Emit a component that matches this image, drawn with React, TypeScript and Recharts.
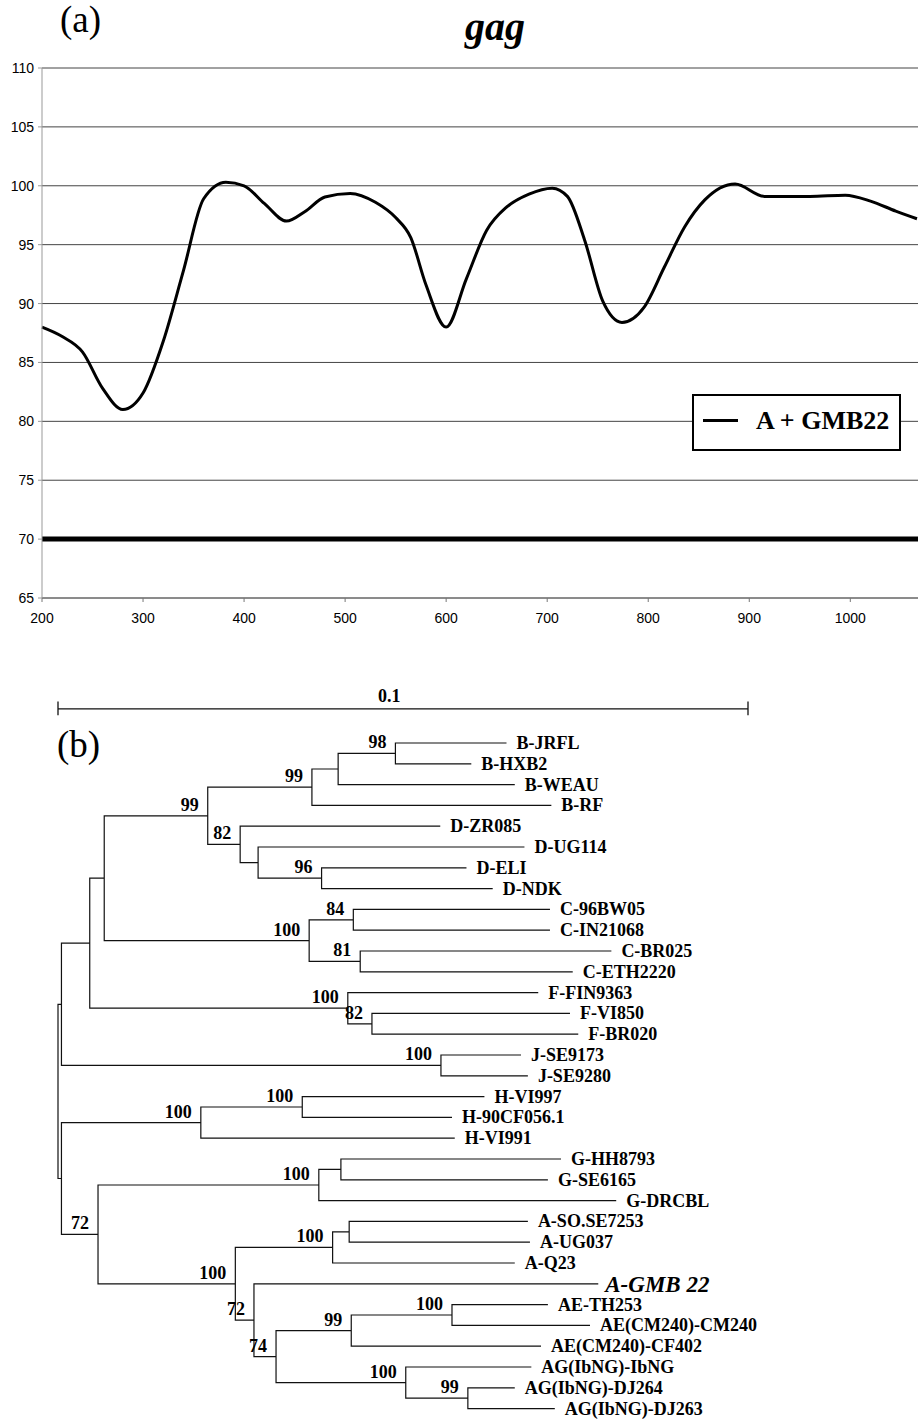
import React from "react";
import {
  LineChart,
  Line,
  XAxis,
  YAxis,
  CartesianGrid,
  ReferenceLine,
  Legend,
  ComposedChart,
  Scatter,
} from "recharts";

// (a) similarity plot, gag
const positions = [
  200, 220, 240, 260, 280, 300, 320, 340, 360, 382, 400, 420, 442, 460, 480, 505, 530, 550, 565, 580, 600,
  620, 640, 660, 682, 705, 720, 737, 755, 774, 796, 816, 836, 856, 886, 915, 960, 995, 1020, 1045, 1066,
];
const identity = [
  88.0, 87.2, 85.9, 82.8, 81.0, 82.4, 86.8, 92.8, 98.9, 100.3, 100.0, 98.5, 97.0, 97.8, 99.05, 99.35, 98.6,
  97.3, 95.6, 91.6, 88.0, 92.1, 96.2, 98.2, 99.3, 99.8, 99.1, 95.4, 90.2, 88.4, 89.7, 93.1, 96.5, 98.8,
  100.15, 99.1, 99.1, 99.2, 98.7, 97.85, 97.2,
];
const xTicks = [200, 300, 400, 500, 600, 700, 800, 900, 1000];
const yTicks = [65, 70, 75, 80, 85, 90, 95, 100, 105, 110];
const threshold = 70;
const seriesName = "A + GMB22";

// (b) neighbour-joining tree
const leafNames = [
  "B-JRFL", "B-HXB2", "B-WEAU", "B-RF", "D-ZR085", "D-UG114", "D-ELI", "D-NDK",
  "C-96BW05", "C-IN21068", "C-BR025", "C-ETH2220", "F-FIN9363", "F-VI850", "F-BR020",
  "J-SE9173", "J-SE9280", "H-VI997", "H-90CF056.1", "H-VI991", "G-HH8793", "G-SE6165",
  "G-DRCBL", "A-SO.SE7253", "A-UG037", "A-Q23", "A-GMB 22", "AE-TH253",
  "AE(CM240)-CM240", "AE(CM240)-CF402", "AG(IbNG)-IbNG", "AG(IbNG)-DJ264", "AG(IbNG)-DJ263",
];
const leafDepth = [
  0.0650, 0.0599, 0.0662, 0.0715, 0.0554, 0.0676, 0.0592, 0.0630, 0.0713, 0.0713, 0.0802,
  0.0746, 0.0696, 0.0742, 0.0754, 0.0671, 0.0681, 0.0618, 0.0571, 0.0575, 0.0729, 0.0710,
  0.0809, 0.0681, 0.0684, 0.0662, 0.0783, 0.0710, 0.0771, 0.0700, 0.0686, 0.0662, 0.0720,
];
const highlightLeaf = "A-GMB 22";

// id, depth, bootstrap, children
const treeNodes: [string, number, string, string, string][] = [
  ["root", 0, "", "n1", "n2"],
  ["n1", 0.0005, "", "n3", "nJ"],
  ["n3", 0.0046, "", "n4", "nF"],
  ["n4", 0.0067, "", "nBD", "nC"],
  ["nBD", 0.0217, "99", "nB", "nD"],
  ["nB", 0.0368, "99", "nB2", "L3"],
  ["nB2", 0.0406, "", "nB3", "L2"],
  ["nB3", 0.0489, "98", "L0", "L1"],
  ["nD", 0.0264, "82", "L4", "nD2"],
  ["nD2", 0.029, "", "L5", "nD3"],
  ["nD3", 0.0382, "96", "L6", "L7"],
  ["nC", 0.0364, "100", "nC1", "nC2"],
  ["nC1", 0.0428, "84", "L8", "L9"],
  ["nC2", 0.0438, "81", "L10", "L11"],
  ["nF", 0.042, "100", "L12", "nF2"],
  ["nF2", 0.0455, "82", "L13", "L14"],
  ["nJ", 0.0555, "100", "L15", "L16"],
  ["n2", 0.0005, "", "nH", "nGA"],
  ["nH", 0.0207, "100", "nH2", "L19"],
  ["nH2", 0.0354, "100", "L17", "L18"],
  ["nGA", 0.0058, "72", "nG", "nA"],
  ["nG", 0.0378, "100", "nG2", "L22"],
  ["nG2", 0.041, "", "L20", "L21"],
  ["nA", 0.0257, "100", "nA2", "nR"],
  ["nA2", 0.0398, "100", "nA3", "L25"],
  ["nA3", 0.0422, "", "L23", "L24"],
  ["nR", 0.0284, "72", "L26", "nR2"],
  ["nR2", 0.0316, "74", "nAE", "nAG"],
  ["nAE", 0.0425, "99", "nAE2", "L29"],
  ["nAE2", 0.0571, "100", "L27", "L28"],
  ["nAG", 0.0504, "100", "L30", "nAG2"],
  ["nAG2", 0.0594, "99", "L31", "L32"],
];
const scaleBarLength = 0.1;
const scaleBarLabel = "0.1";

const lineData = positions.map((p, i) => ({ pos: p, identity: identity[i] }));

type Pt = { x: number; y: number | null };
const branchPath: Pt[] = [];
const supportData: { x: number; y: number; label: string }[] = [];
const nodeById = new Map(treeNodes.map((n) => [n[0], n]));

function layout(id: string): { x: number; y: number } {
  if (id.startsWith("L")) {
    const i = Number(id.slice(1));
    return { x: leafDepth[i], y: i };
  }
  const [, depth, support, a, b] = nodeById.get(id)!;
  const ca = layout(a);
  const cb = layout(b);
  const y = (ca.y + cb.y) / 2;
  // elbow: child a -> node -> child b
  branchPath.push(
    { x: ca.x, y: ca.y },
    { x: depth, y: ca.y },
    { x: depth, y: cb.y },
    { x: cb.x, y: cb.y },
    { x: cb.x, y: null }
  );
  if (support) supportData.push({ x: depth, y, label: support });
  return { x: depth, y };
}
layout("root");

const leafData = leafNames.map((name, i) => ({ x: leafDepth[i], y: i, name }));

// scale bar sits above the first leaf
const barY = -1.64;
const scaleBar: Pt[] = [
  { x: 0, y: barY - 0.36 },
  { x: 0, y: barY + 0.3 },
  { x: 0, y: null },
  { x: 0, y: barY },
  { x: scaleBarLength, y: barY },
  { x: scaleBarLength, y: null },
  { x: scaleBarLength, y: barY - 0.36 },
  { x: scaleBarLength, y: barY + 0.3 },
];
const scaleLabelData = [{ x: scaleBarLength * 0.48, y: -2.28, name: scaleBarLabel }];

const serif = "'Liberation Serif', 'Times New Roman', serif";
const sans = "'Liberation Sans', Arial, sans-serif";

const renderLegend = () => (
  <div
    style={{
      position: "relative",
      width: 209,
      height: 57,
      boxSizing: "border-box",
      border: "2px solid #000",
      background: "#fff",
    }}
  >
    <div style={{ position: "absolute", left: 9, top: 23, width: 35, height: 3, background: "#000" }} />
    <span
      style={{
        position: "absolute",
        left: 62,
        top: 12,
        fontFamily: serif,
        fontWeight: "bold",
        fontSize: 26,
        lineHeight: "26px",
        whiteSpace: "nowrap",
        color: "#000",
      }}
    >
      {seriesName}
    </span>
  </div>
);

const LeafLabel = (props: any) => {
  const { cx, cy, payload } = props;
  const hi = payload.name === highlightLeaf;
  return (
    <text
      x={cx + (hi ? 7 : 10)}
      y={cy + (hi ? 8 : 6)}
      fontFamily={serif}
      fontWeight="bold"
      fontStyle={hi ? "italic" : "normal"}
      fontSize={hi ? 23 : 18}
      fill="#000"
    >
      {payload.name}
    </text>
  );
};

const SupportLabel = (props: any) => {
  const { cx, cy, payload } = props;
  return (
    <text x={cx - 9} y={cy - 5} textAnchor="end" fontFamily={serif} fontWeight="bold" fontSize={18} fill="#000">
      {payload.label}
    </text>
  );
};

const ScaleLabel = (props: any) => {
  const { cx, cy, payload } = props;
  return (
    <text x={cx} y={cy + 6} textAnchor="middle" fontFamily={serif} fontWeight="bold" fontSize={18} fill="#000">
      {payload.name}
    </text>
  );
};

export default function App() {
  return (
    <div style={{ position: "absolute", left: 0, top: 0, width: 918, height: 1419, background: "#fff", overflow: "hidden" }}>
      <div style={{ position: "absolute", left: 0, top: 0 }}>
        <LineChart width={918} height={640} data={lineData} margin={{ top: 68, right: 0, bottom: 12, left: 0 }}>
          <CartesianGrid vertical={false} stroke="#444" strokeWidth={1} />
          <XAxis
            type="number"
            dataKey="pos"
            domain={[200, 1067]}
            ticks={xTicks}
            height={30}
            tickSize={4}
            tickMargin={11}
            stroke="#777"
            tick={{ fill: "#000", fontSize: 14, fontFamily: sans }}
          />
          <YAxis
            type="number"
            domain={[65, 110]}
            ticks={yTicks}
            width={42}
            tickSize={4}
            tickMargin={4}
            stroke="#999"
            tick={{ fill: "#000", fontSize: 14, fontFamily: sans }}
          />
          <ReferenceLine y={threshold} stroke="#000" strokeWidth={5} />
          <Line
            type="monotone"
            dataKey="identity"
            name={seriesName}
            stroke="#000"
            strokeWidth={3}
            dot={false}
            isAnimationActive={false}
          />
          <Legend
            layout="vertical"
            align="center"
            verticalAlign="middle"
            wrapperStyle={{ left: 692, top: 394, width: 209, height: 57 }}
            content={renderLegend}
          />
        </LineChart>
      </div>

      <div style={{ position: "absolute", left: 0, top: 667 }}>
        <ComposedChart width={918} height={752} margin={{ top: 24, right: 32, bottom: 0, left: 58 }}>
          <XAxis type="number" dataKey="x" domain={[0, 0.12]} hide />
          <YAxis type="number" dataKey="y" domain={[-2.5, 32.5]} reversed hide />
          <Line
            data={scaleBar}
            dataKey="y"
            stroke="#111"
            strokeWidth={1.3}
            dot={false}
            connectNulls={false}
            isAnimationActive={false}
          />
          <Line
            data={branchPath}
            dataKey="y"
            stroke="#111"
            strokeWidth={1.2}
            dot={false}
            connectNulls={false}
            isAnimationActive={false}
          />
          <Scatter data={leafData} shape={LeafLabel} isAnimationActive={false} />
          <Scatter data={supportData} shape={SupportLabel} isAnimationActive={false} />
          <Scatter data={scaleLabelData} shape={ScaleLabel} isAnimationActive={false} />
        </ComposedChart>
      </div>

      <svg width={918} height={1419} style={{ position: "absolute", left: 0, top: 0, pointerEvents: "none" }}>
        <text x={60} y={32} fontFamily={serif} fontSize={37} fill="#000">
          (a)
        </text>
        <text x={465} y={40} fontFamily={serif} fontSize={40} fontWeight="bold" fontStyle="italic" fill="#000">
          gag
        </text>
        <text x={57} y={757} fontFamily={serif} fontSize={37} fill="#000">
          (b)
        </text>
      </svg>
    </div>
  );
}
